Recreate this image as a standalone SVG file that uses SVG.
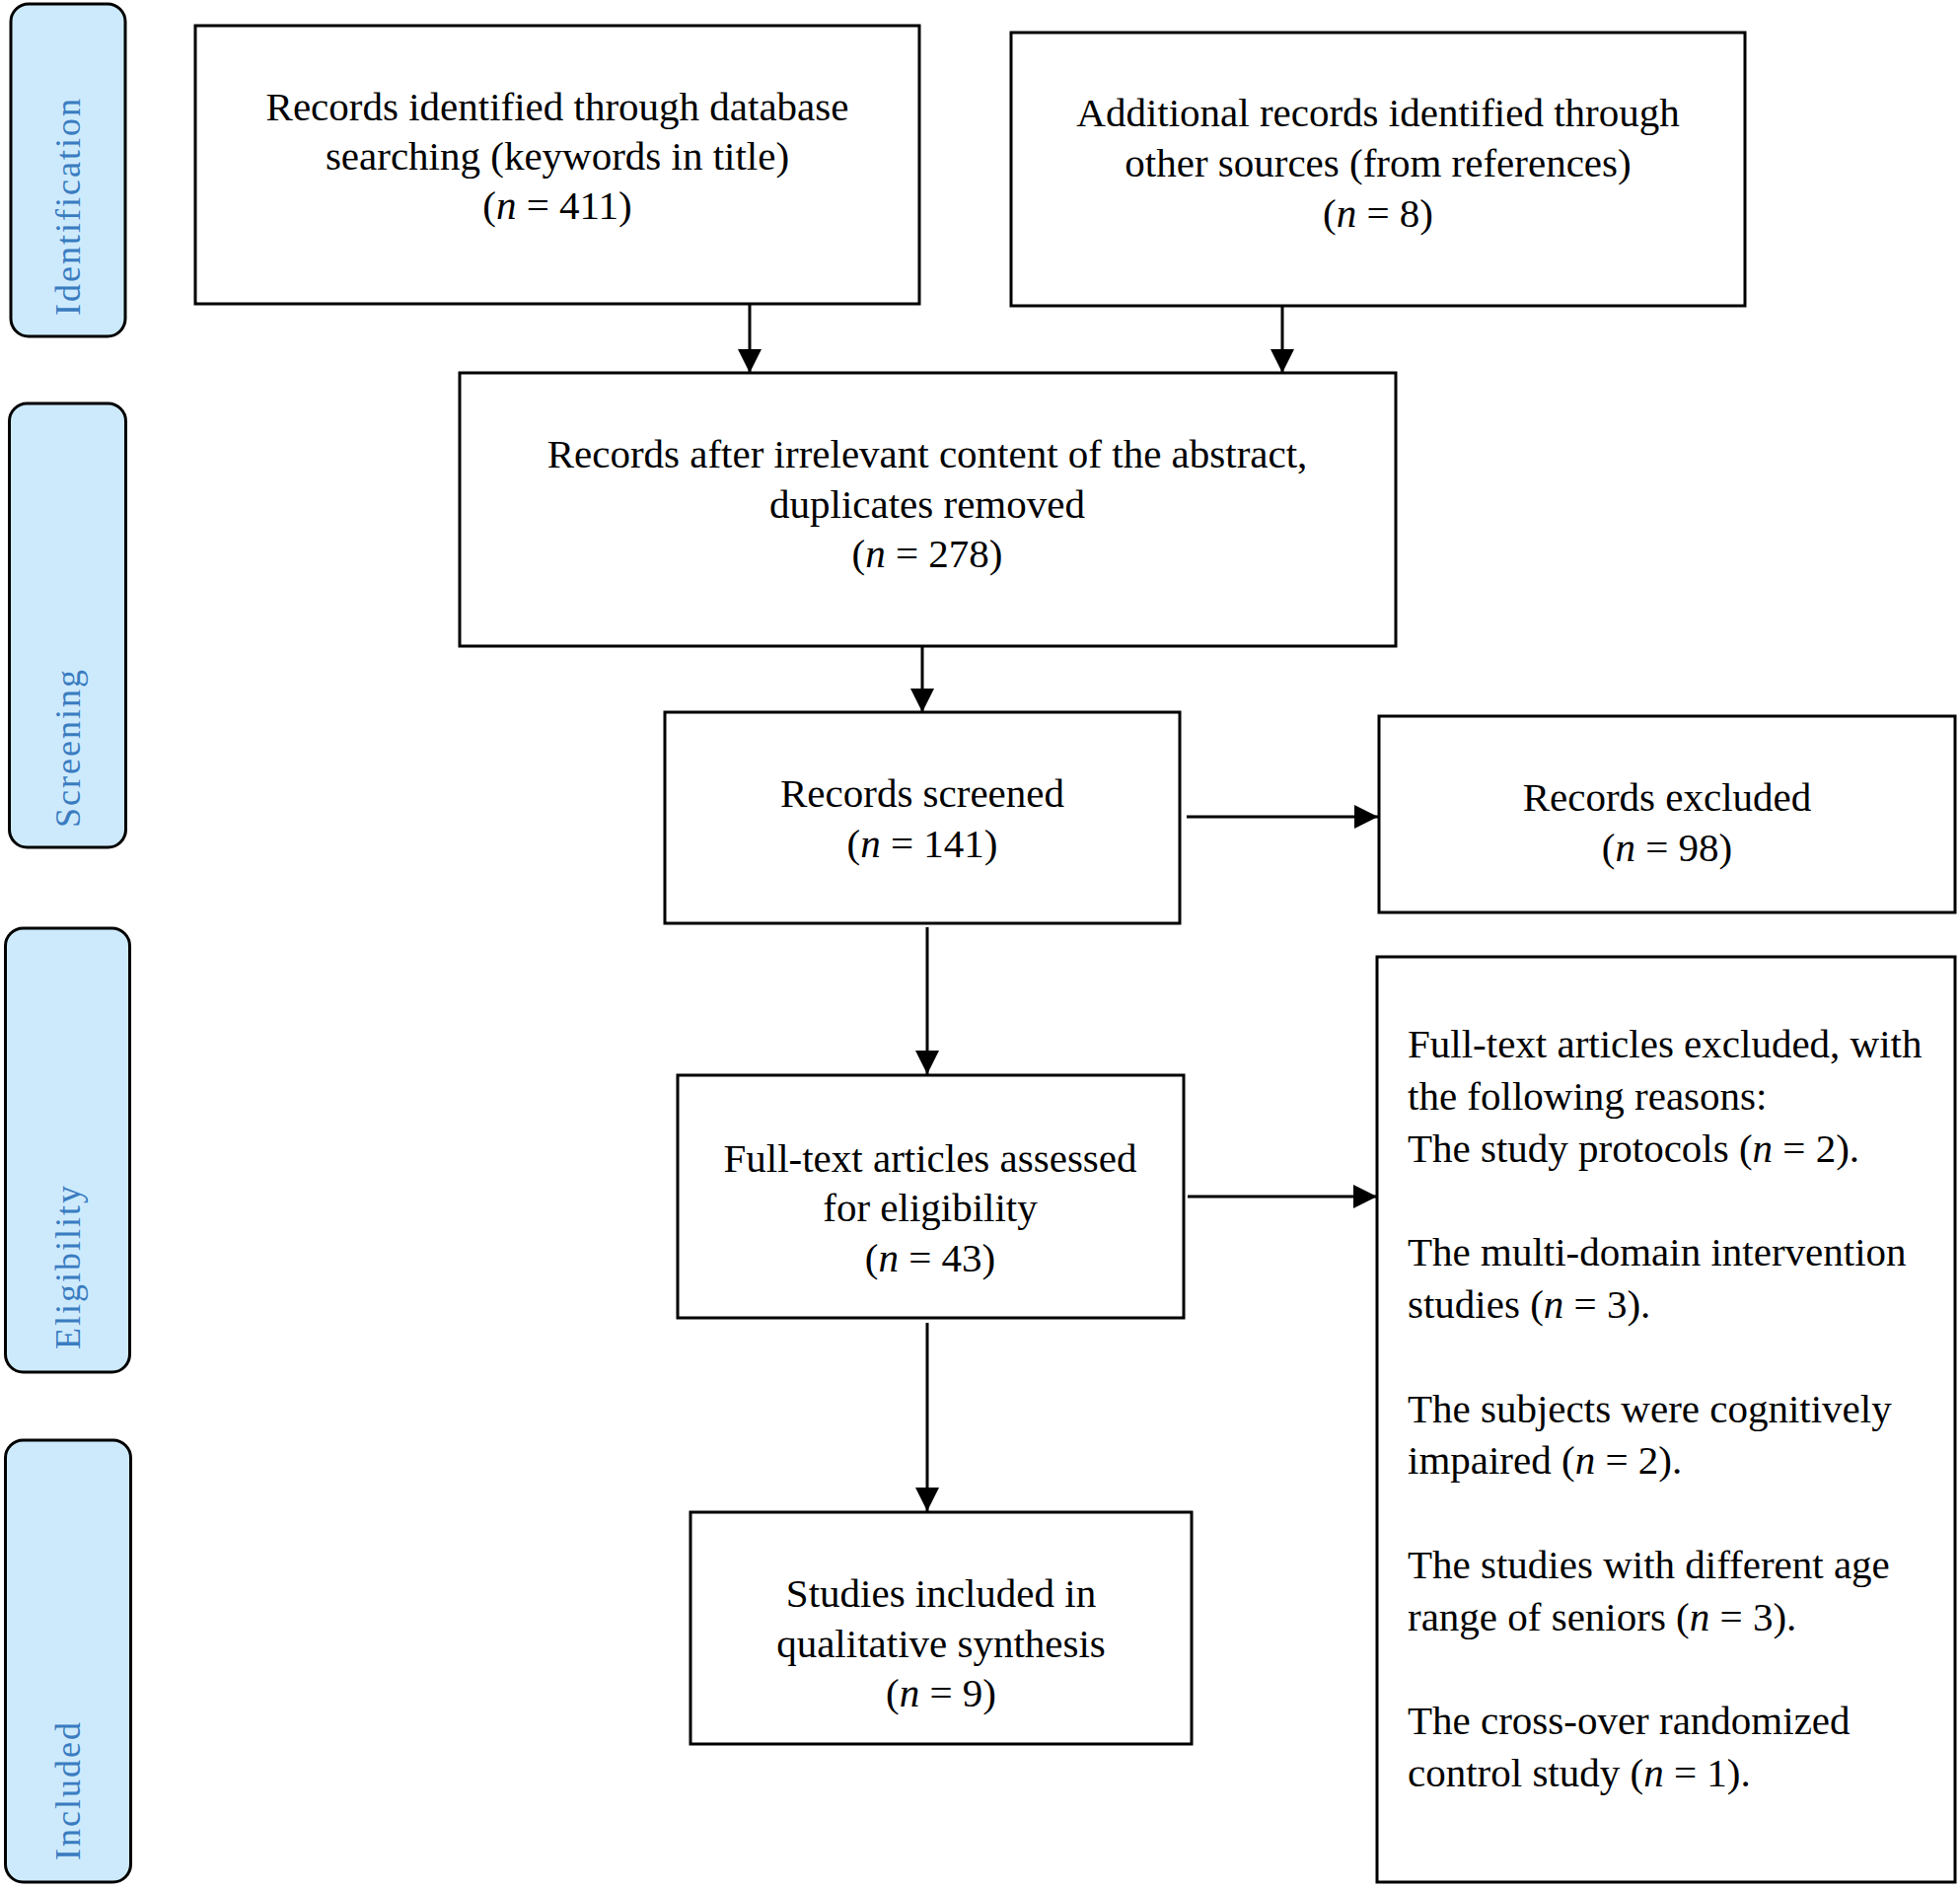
<svg xmlns="http://www.w3.org/2000/svg" width="1987" height="1915" viewBox="0 0 1987 1915">
<defs>
<style>
.box{fill:#ffffff;stroke:#000000;stroke-width:3}
.pill{fill:#cdeafd;stroke:#000000;stroke-width:3}
.t{font-family:"Liberation Serif","Times New Roman",serif;font-size:41px;fill:#000000}
.c{text-anchor:middle}
.i{font-style:italic}
.lab{font-family:"Liberation Serif","Times New Roman",serif;font-size:36px;fill:#3a7cc0;letter-spacing:2px}
.conn line{stroke:#000000;stroke-width:3}
</style>
<marker id="ah" markerUnits="userSpaceOnUse" markerWidth="24" markerHeight="24" viewBox="0 0 24 24" refX="24" refY="12" orient="auto">
<path d="M0,0 L24,12 L0,24 z" fill="#000000"/>
</marker>
</defs>
<rect width="1987" height="1915" fill="#ffffff"/>

<g id="stage-identification">
<rect class="pill" x="11" y="4" width="116" height="337" rx="18"/>
<text class="lab" transform="translate(81,320) rotate(-90)">Identification</text>
</g>
<g id="stage-screening">
<rect class="pill" x="9.5" y="409" width="118" height="450" rx="18"/>
<text class="lab" transform="translate(81,839) rotate(-90)">Screening</text>
</g>
<g id="stage-eligibility">
<rect class="pill" x="5.5" y="941" width="126" height="450" rx="18"/>
<text class="lab" transform="translate(81,1368) rotate(-90)">Eligibility</text>
</g>
<g id="stage-included">
<rect class="pill" x="5.5" y="1460" width="127" height="448" rx="18"/>
<text class="lab" transform="translate(81,1886) rotate(-90)">Included</text>
</g>

<g id="records-identified">
<rect class="box" x="198" y="26" width="734" height="282"/>
<text class="t c" x="565" y="122">Records identified through database</text>
<text class="t c" x="565" y="172">searching (keywords in title)</text>
<text class="t c" x="565" y="222">(<tspan class="i">n</tspan> = 411)</text>
</g>

<g id="additional-records">
<rect class="box" x="1025" y="33" width="744" height="277"/>
<text class="t c" x="1397" y="128">Additional records identified through</text>
<text class="t c" x="1397" y="179">other sources (from references)</text>
<text class="t c" x="1397" y="230">(<tspan class="i">n</tspan> = 8)</text>
</g>

<g id="records-after-removal">
<rect class="box" x="466" y="378" width="949" height="277"/>
<text class="t c" x="940" y="474">Records after irrelevant content of the abstract,</text>
<text class="t c" x="940" y="525">duplicates removed</text>
<text class="t c" x="940" y="575">(<tspan class="i">n</tspan> = 278)</text>
</g>

<g id="records-screened">
<rect class="box" x="674" y="722" width="522" height="214"/>
<text class="t c" x="935" y="818">Records screened</text>
<text class="t c" x="935" y="869">(<tspan class="i">n</tspan> = 141)</text>
</g>

<g id="records-excluded">
<rect class="box" x="1398" y="726" width="584" height="199"/>
<text class="t c" x="1690" y="822">Records excluded</text>
<text class="t c" x="1690" y="873">(<tspan class="i">n</tspan> = 98)</text>
</g>

<g id="full-text-assessed">
<rect class="box" x="687" y="1090" width="513" height="246"/>
<text class="t c" x="943" y="1188">Full-text articles assessed</text>
<text class="t c" x="943" y="1238">for eligibility</text>
<text class="t c" x="943" y="1289">(<tspan class="i">n</tspan> = 43)</text>
</g>

<g id="studies-included">
<rect class="box" x="700" y="1533" width="508" height="235"/>
<text class="t c" x="954" y="1629">Studies included in</text>
<text class="t c" x="954" y="1680">qualitative synthesis</text>
<text class="t c" x="954" y="1730">(<tspan class="i">n</tspan> = 9)</text>
</g>

<g id="full-text-excluded">
<rect class="box" x="1396" y="970" width="586" height="938"/>
<text class="t" x="1427" y="1072">Full-text articles excluded, with</text>
<text class="t" x="1427" y="1125">the following reasons:</text>
<text class="t" x="1427" y="1178">The study protocols (<tspan class="i">n</tspan> = 2).</text>
<text class="t" x="1427" y="1283">The multi-domain intervention</text>
<text class="t" x="1427" y="1336">studies (<tspan class="i">n</tspan> = 3).</text>
<text class="t" x="1427" y="1442">The subjects were cognitively</text>
<text class="t" x="1427" y="1494">impaired (<tspan class="i">n</tspan> = 2).</text>
<text class="t" x="1427" y="1600">The studies with different age</text>
<text class="t" x="1427" y="1653">range of seniors (<tspan class="i">n</tspan> = 3).</text>
<text class="t" x="1427" y="1758">The cross-over randomized</text>
<text class="t" x="1427" y="1811">control study (<tspan class="i">n</tspan> = 1).</text>
</g>

<g id="connectors" class="conn">
<line x1="760" y1="308" x2="760" y2="378" marker-end="url(#ah)"/>
<line x1="1300" y1="311" x2="1300" y2="378" marker-end="url(#ah)"/>
<line x1="935" y1="655" x2="935" y2="722" marker-end="url(#ah)"/>
<line x1="1203" y1="828" x2="1397" y2="828" marker-end="url(#ah)"/>
<line x1="940" y1="940" x2="940" y2="1089" marker-end="url(#ah)"/>
<line x1="1204" y1="1213" x2="1396" y2="1213" marker-end="url(#ah)"/>
<line x1="940" y1="1341" x2="940" y2="1532" marker-end="url(#ah)"/>
</g>
</svg>
